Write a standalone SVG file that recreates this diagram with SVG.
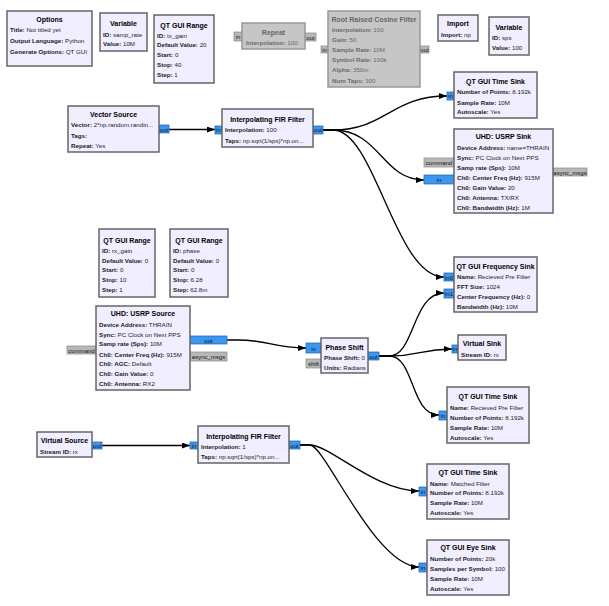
<svg xmlns="http://www.w3.org/2000/svg" width="609" height="606" viewBox="0 0 609 606">
<style>
.n{fill:#f1efff;stroke:#666;stroke-width:1.5}
.d{fill:#c6c6c6;stroke:#999;stroke-width:1.5}
.t{font-family:"Liberation Sans",Arial,sans-serif;font-size:7px;font-weight:bold;text-anchor:middle;fill:#000}
.dt{fill:#666}
.b{font-family:"Liberation Sans",Arial,sans-serif;font-size:6.2px;fill:#222}
.db{fill:#6a6a6a}
.b tspan{font-weight:bold}
.p{fill:#3d97f0;stroke:#1d5fb0;stroke-width:0.7}
.g{fill:#b8b8b8;stroke:#888;stroke-width:0.7}
.pt{font-family:"Liberation Sans",Arial,sans-serif;font-size:6px;fill:#111;text-anchor:middle}
.c{fill:none;stroke:#000;stroke-width:1.3;marker-end:url(#ah)}
</style>
<defs>
<marker id="ah" markerUnits="userSpaceOnUse" markerWidth="8" markerHeight="6" refX="8" refY="3" orient="auto"><path d="M0,0 L8,3 L0,6 z" fill="#000"/></marker>
</defs>
<rect width="609" height="606" fill="#fff"/>

<g id="connectors">
<path class="c" d="M169,129.5 L215,129.5"/>
<path class="c" d="M323,130 L333,130 C385,130 392,96 447,96"/>
<path class="c" d="M323,130 L333,130 C380,130 382,180 424,180"/>
<path class="c" d="M323,130 L333,130 C375,130 395,277 444,277"/>
<path class="c" d="M227,340 L237,340 C270,340 272,348 306,348"/>
<path class="c" d="M379,356 L389,356 C415,356 412,293 444,293"/>
<path class="c" d="M379,356 L389,356 C420,356 420,349 452,349"/>
<path class="c" d="M379,356 L389,356 C415,356 410,415 439,415"/>
<path class="c" d="M102,445.5 L190,445.5"/>
<path class="c" d="M300,445 L310,445 C330,445 375,491 419,491"/>
<path class="c" d="M300,445 L310,445 C325,445 375,567 419,567"/>
</g>

<g id="options">
<rect class="n" x="7" y="11" width="85" height="55"/>
<text class="t" x="49.5" y="22">Options</text>
<text class="b" x="10" y="31.5"><tspan>Title:</tspan> Not titled yet</text>
<text class="b" x="10" y="42.5"><tspan>Output Language:</tspan> Python</text>
<text class="b" x="10" y="53.5"><tspan>Generate Options:</tspan> QT GUI</text>
</g>

<g id="variable_samp_rate">
<rect class="n" x="100" y="13" width="47" height="38"/>
<text class="t" x="123.5" y="25.5">Variable</text>
<text class="b" x="103" y="36.5"><tspan>ID:</tspan> samp_rate</text>
<text class="b" x="103" y="45.5"><tspan>Value:</tspan> 10M</text>
</g>

<g id="range_tx_gain">
<rect class="n" x="154" y="15" width="60" height="68"/>
<text class="t" x="184" y="27.5">QT GUI Range</text>
<text class="b" x="157" y="37.5"><tspan>ID:</tspan> tx_gain</text>
<text class="b" x="157" y="46.5"><tspan>Default Value:</tspan> 20</text>
<text class="b" x="157" y="56.5"><tspan>Start:</tspan> 0</text>
<text class="b" x="157" y="66.5"><tspan>Stop:</tspan> 40</text>
<text class="b" x="157" y="76.5"><tspan>Step:</tspan> 1</text>
</g>

<g id="repeat">
<rect class="g" x="234" y="32" width="8" height="9"/>
<text class="pt" x="238" y="39" fill="#555">in</text>
<rect class="g" x="305" y="33" width="11" height="8"/>
<text class="pt" x="310.5" y="39.5">out</text>
<rect class="d" x="242" y="23" width="63" height="26"/>
<text class="t dt" x="273.5" y="34.5">Repeat</text>
<text class="b db" x="246" y="44.5"><tspan>Interpolation:</tspan> 100</text>
</g>

<g id="rrc_filter">
<rect class="g" x="321" y="46" width="7" height="7"/>
<text class="pt" x="324.5" y="52">in</text>
<rect class="g" x="420" y="46" width="9" height="7"/>
<text class="pt" x="424.5" y="52">out</text>
<rect class="d" x="328" y="11" width="92" height="76"/>
<text class="t dt" x="374" y="21.5">Root Raised Cosine Filter</text>
<text class="b db" x="332" y="31.5"><tspan>Interpolation:</tspan> 100</text>
<text class="b db" x="332" y="41.5"><tspan>Gain:</tspan> 50</text>
<text class="b db" x="332" y="51.5"><tspan>Sample Rate:</tspan> 10M</text>
<text class="b db" x="332" y="61.5"><tspan>Symbol Rate:</tspan> 100k</text>
<text class="b db" x="332" y="71.5"><tspan>Alpha:</tspan> 350m</text>
<text class="b db" x="332" y="82.5"><tspan>Num Taps:</tspan> 300</text>
</g>

<g id="import">
<rect class="n" x="438" y="15" width="40" height="26"/>
<text class="t" x="458" y="25.5">Import</text>
<text class="b" x="441" y="36.5"><tspan>Import:</tspan> np</text>
</g>

<g id="variable_sps">
<rect class="n" x="489" y="17" width="40" height="38"/>
<text class="t" x="509" y="29.5">Variable</text>
<text class="b" x="492" y="39.5"><tspan>ID:</tspan> sps</text>
<text class="b" x="492" y="49.5"><tspan>Value:</tspan> 100</text>
</g>

<g id="vector_source">
<rect class="p" x="159" y="125" width="10" height="8"/>
<text class="pt" x="164" y="131.5">out</text>
<rect class="n" x="68" y="106" width="91" height="46"/>
<text class="t" x="113.5" y="116.5">Vector Source</text>
<text class="b" x="71" y="126.5"><tspan>Vector:</tspan> 2*np.random.randin...</text>
<text class="b" x="71" y="137.5"><tspan>Tags:</tspan></text>
<text class="b" x="71" y="147.5"><tspan>Repeat:</tspan> Yes</text>
</g>

<g id="interp_fir_tx">
<rect class="p" x="215" y="126" width="7" height="8"/>
<text class="pt" x="218.5" y="132">in</text>
<rect class="p" x="313" y="126" width="10" height="8"/>
<text class="pt" x="318" y="132">out</text>
<rect class="n" x="222" y="109" width="91" height="38"/>
<text class="t" x="267.5" y="121.5">Interpolating FIR Filter</text>
<text class="b" x="225" y="131.5"><tspan>Interpolation:</tspan> 100</text>
<text class="b" x="225" y="142.5"><tspan>Taps:</tspan> np.sqrt(1/sps)*np.on...</text>
</g>

<g id="time_sink_tx">
<rect class="p" x="447" y="92" width="7" height="8"/>
<text class="pt" x="450.5" y="98">in</text>
<rect class="n" x="454" y="72" width="83" height="46"/>
<text class="t" x="495.5" y="83.5">QT GUI Time Sink</text>
<text class="b" x="457" y="93.5"><tspan>Number of Points:</tspan> 8.192k</text>
<text class="b" x="457" y="104.5"><tspan>Sample Rate:</tspan> 10M</text>
<text class="b" x="457" y="113.5"><tspan>Autoscale:</tspan> Yes</text>
</g>

<g id="usrp_sink">
<rect class="g" x="424" y="158" width="30" height="9"/>
<text class="pt" x="439" y="165">command</text>
<rect class="p" x="424" y="175" width="30" height="9"/>
<text class="pt" x="439" y="182">in</text>
<rect class="g" x="553" y="168" width="34" height="8"/>
<text class="pt" x="570" y="174.5">async_msgs</text>
<rect class="n" x="454" y="129" width="99" height="84"/>
<text class="t" x="503.5" y="138.5">UHD: USRP Sink</text>
<text class="b" x="457" y="149.5"><tspan>Device Address:</tspan> name=THRAIN</text>
<text class="b" x="457" y="159.5"><tspan>Sync:</tspan> PC Clock on Next PPS</text>
<text class="b" x="457" y="169.5"><tspan>Samp rate (Sps):</tspan> 10M</text>
<text class="b" x="457" y="179.5"><tspan>Ch0: Center Freq (Hz):</tspan> 915M</text>
<text class="b" x="457" y="189.5"><tspan>Ch0: Gain Value:</tspan> 20</text>
<text class="b" x="457" y="199.5"><tspan>Ch0: Antenna:</tspan> TX/RX</text>
<text class="b" x="457" y="209.5"><tspan>Ch0: Bandwidth (Hz):</tspan> 1M</text>
</g>

<g id="range_rx_gain">
<rect class="n" x="99" y="229" width="56" height="68"/>
<text class="t" x="127" y="242.5">QT GUI Range</text>
<text class="b" x="102" y="252.5"><tspan>ID:</tspan> rx_gain</text>
<text class="b" x="102" y="262.5"><tspan>Default Value:</tspan> 0</text>
<text class="b" x="102" y="271.5"><tspan>Start:</tspan> 0</text>
<text class="b" x="102" y="281.5"><tspan>Stop:</tspan> 10</text>
<text class="b" x="102" y="291.5"><tspan>Step:</tspan> 1</text>
</g>

<g id="range_phase">
<rect class="n" x="170" y="229" width="58" height="68"/>
<text class="t" x="199" y="242.5">QT GUI Range</text>
<text class="b" x="173" y="252.5"><tspan>ID:</tspan> phase</text>
<text class="b" x="173" y="262.5"><tspan>Default Value:</tspan> 0</text>
<text class="b" x="173" y="271.5"><tspan>Start:</tspan> 0</text>
<text class="b" x="173" y="281.5"><tspan>Stop:</tspan> 6.28</text>
<text class="b" x="173" y="291.5"><tspan>Step:</tspan> 62.8m</text>
</g>

<g id="usrp_source">
<rect class="g" x="67" y="346" width="29" height="8"/>
<text class="pt" x="81.5" y="352.5">command</text>
<rect class="p" x="190" y="336" width="37" height="8"/>
<text class="pt" x="208.5" y="342.5">out</text>
<rect class="g" x="190" y="352" width="37" height="9"/>
<text class="pt" x="208.5" y="359">async_msgs</text>
<rect class="n" x="96" y="306" width="94" height="84"/>
<text class="t" x="143" y="315.5">UHD: USRP Source</text>
<text class="b" x="99" y="326.5"><tspan>Device Address:</tspan> THRAIN</text>
<text class="b" x="99" y="336.5"><tspan>Sync:</tspan> PC Clock on Next PPS</text>
<text class="b" x="99" y="345.5"><tspan>Samp rate (Sps):</tspan> 10M</text>
<text class="b" x="99" y="356.5"><tspan>Ch0: Center Freq (Hz):</tspan> 915M</text>
<text class="b" x="99" y="365.5"><tspan>Ch0: AGC:</tspan> Default</text>
<text class="b" x="99" y="375.5"><tspan>Ch0: Gain Value:</tspan> 0</text>
<text class="b" x="99" y="385.5"><tspan>Ch0: Antenna:</tspan> RX2</text>
</g>

<g id="phase_shift">
<rect class="p" x="306" y="343" width="15" height="10"/>
<text class="pt" x="313.5" y="350.5">in</text>
<rect class="g" x="306" y="359" width="15" height="9"/>
<text class="pt" x="313.5" y="366">shift</text>
<rect class="p" x="368" y="352" width="11" height="8"/>
<text class="pt" x="373.5" y="358.5">out</text>
<rect class="n" x="321" y="338" width="47" height="35"/>
<text class="t" x="344.5" y="349.5">Phase Shift</text>
<text class="b" x="324" y="359.5"><tspan>Phase Shift:</tspan> 0</text>
<text class="b" x="324" y="369.5"><tspan>Units:</tspan> Radians</text>
</g>

<g id="freq_sink">
<rect class="p" x="444" y="273" width="10" height="8"/>
<text class="pt" x="449" y="279.5">in0</text>
<rect class="p" x="444" y="289" width="10" height="9"/>
<text class="pt" x="449" y="296">in1</text>
<rect class="n" x="454" y="257" width="83" height="55"/>
<text class="t" x="495.5" y="268.5">QT GUI Frequency Sink</text>
<text class="b" x="457" y="278.5"><tspan>Name:</tspan> Recieved Pre Filter</text>
<text class="b" x="457" y="288.5"><tspan>FFT Size:</tspan> 1024</text>
<text class="b" x="457" y="298.5"><tspan>Center Frequency (Hz):</tspan> 0</text>
<text class="b" x="457" y="308.5"><tspan>Bandwidth (Hz):</tspan> 10M</text>
</g>

<g id="virtual_sink">
<rect class="p" x="452" y="345" width="6" height="8"/>
<text class="pt" x="455" y="351">in</text>
<rect class="n" x="458" y="335" width="48" height="25"/>
<text class="t" x="482" y="345.5">Virtual Sink</text>
<text class="b" x="461" y="356.5"><tspan>Stream ID:</tspan> rx</text>
</g>

<g id="time_sink_rx">
<rect class="p" x="439" y="411" width="8" height="9"/>
<text class="pt" x="443" y="418">in</text>
<rect class="n" x="447" y="387" width="82" height="56"/>
<text class="t" x="488" y="398.5">QT GUI Time Sink</text>
<text class="b" x="450" y="409.5"><tspan>Name:</tspan> Recieved Pre Filter</text>
<text class="b" x="450" y="419.5"><tspan>Number of Points:</tspan> 8.192k</text>
<text class="b" x="450" y="429.5"><tspan>Sample Rate:</tspan> 10M</text>
<text class="b" x="450" y="439.5"><tspan>Autoscale:</tspan> Yes</text>
</g>

<g id="virtual_source">
<rect class="p" x="92" y="442" width="10" height="7"/>
<text class="pt" x="97" y="448">out</text>
<rect class="n" x="37" y="432" width="55" height="25"/>
<text class="t" x="64.5" y="442.5">Virtual Source</text>
<text class="b" x="40" y="453.5"><tspan>Stream ID:</tspan> rx</text>
</g>

<g id="interp_fir_rx">
<rect class="p" x="190" y="442" width="8" height="7"/>
<text class="pt" x="194" y="448">in</text>
<rect class="p" x="289" y="441" width="11" height="8"/>
<text class="pt" x="294.5" y="447.5">out</text>
<rect class="n" x="198" y="426" width="91" height="37"/>
<text class="t" x="243.5" y="438.5">Interpolating FIR Filter</text>
<text class="b" x="201" y="448.5"><tspan>Interpolation:</tspan> 1</text>
<text class="b" x="201" y="458.5"><tspan>Taps:</tspan> np.sqrt(1/sps)*np.on...</text>
</g>

<g id="time_sink_matched">
<rect class="p" x="419" y="487" width="8" height="9"/>
<text class="pt" x="423" y="494">in</text>
<rect class="n" x="427" y="464" width="82" height="55"/>
<text class="t" x="468" y="474.5">QT GUI Time Sink</text>
<text class="b" x="430" y="485.5"><tspan>Name:</tspan> Matched Filter</text>
<text class="b" x="430" y="494.5"><tspan>Number of Points:</tspan> 8.192k</text>
<text class="b" x="430" y="504.5"><tspan>Sample Rate:</tspan> 10M</text>
<text class="b" x="430" y="514.5"><tspan>Autoscale:</tspan> Yes</text>
</g>

<g id="eye_sink">
<rect class="p" x="419" y="563" width="8" height="9"/>
<text class="pt" x="423" y="570">in</text>
<rect class="n" x="427" y="540" width="82" height="55"/>
<text class="t" x="468" y="549.5">QT GUI Eye Sink</text>
<text class="b" x="430" y="560.5"><tspan>Number of Points:</tspan> 20k</text>
<text class="b" x="430" y="570.5"><tspan>Samples per Symbol:</tspan> 100</text>
<text class="b" x="430" y="580.5"><tspan>Sample Rate:</tspan> 10M</text>
<text class="b" x="430" y="590.5"><tspan>Autoscale:</tspan> Yes</text>
</g>
</svg>
